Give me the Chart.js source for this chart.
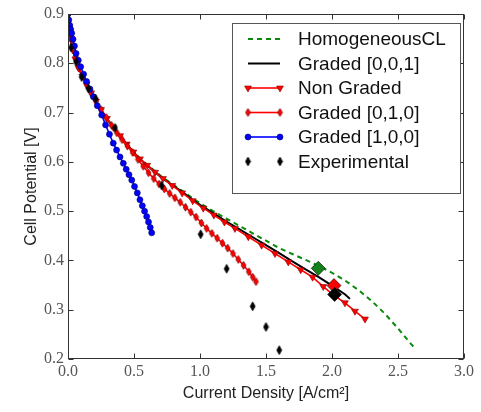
<!DOCTYPE html>
<html><head><meta charset="utf-8">
<script src="https://cdn.jsdelivr.net/npm/chart.js@4.4.0/dist/chart.umd.min.js"></script>
<style>html,body{margin:0;padding:0;background:#fff}#wrap{width:481px;height:412px;position:relative}</style>
</head><body><div id="wrap"><canvas id="c"></canvas></div>
<script>
// ---- tick labels ----
const xTickValues = [0.0, 0.5, 1.0, 1.5, 2.0, 2.5, 3.0];
const yTickValues = [0.2, 0.3, 0.4, 0.5, 0.6, 0.7, 0.8, 0.9];
const seriesNames = ['HomogeneousCL', 'Graded [0,0,1]', 'Non Graded', 'Graded [0,1,0]', 'Graded [1,0,0]', 'Experimental'];

// ---- HomogeneousCL ----
const homogCurrent = [0,0.008,0.02,0.036,0.056,0.08,0.108,0.14,0.175,0.212,0.25,0.295,0.343,0.395,0.445,0.495,0.545,0.6,0.66,0.72,0.79,0.865,0.945,1.0,1.1,1.2,1.3,1.4,1.5,1.6,1.7,1.8,1.9,2.0,2.1,2.2,2.3,2.4,2.5,2.6,2.634];
const homogPotential = [0.9,0.874,0.85,0.828,0.809,0.791,0.774,0.757,0.74,0.723,0.706,0.688,0.67,0.653,0.636,0.621,0.607,0.594,0.581,0.568,0.555,0.541,0.526,0.516,0.5,0.485,0.47,0.455,0.44,0.425,0.413,0.401,0.389,0.375,0.359,0.34,0.318,0.292,0.262,0.23,0.22];

// ---- Graded [0,0,1] ----
const g001Current = [0,0.008,0.02,0.036,0.056,0.08,0.108,0.14,0.175,0.212,0.25,0.295,0.343,0.395,0.445,0.495,0.545,0.6,0.66,0.72,0.79,0.865,0.945,1.0,1.1,1.2,1.3,1.4,1.5,1.6,1.7,1.8,1.9,2.0,2.1,2.136];
const g001Potential = [0.9,0.874,0.85,0.828,0.809,0.791,0.774,0.757,0.74,0.723,0.706,0.688,0.67,0.653,0.636,0.62,0.606,0.593,0.579,0.566,0.553,0.539,0.523,0.513,0.496,0.479,0.463,0.447,0.431,0.415,0.398,0.382,0.366,0.349,0.331,0.322];

// ---- Non Graded ----
const nonGradedCurrent = [0,0.008,0.02,0.036,0.056,0.08,0.108,0.14,0.175,0.212,0.25,0.295,0.343,0.395,0.445,0.495,0.545,0.6,0.66,0.72,0.79,0.865,0.945,1.025,1.105,1.185,1.265,1.366,1.467,1.568,1.669,1.763,1.853,1.934,2.01,2.098,2.174,2.25];
const nonGradedPotential = [0.9,0.874,0.85,0.828,0.809,0.791,0.774,0.757,0.74,0.723,0.706,0.688,0.67,0.653,0.636,0.62,0.606,0.593,0.579,0.566,0.552,0.537,0.521,0.506,0.492,0.478,0.465,0.448,0.431,0.414,0.397,0.381,0.366,0.347,0.33,0.314,0.297,0.281];

// ---- Graded [0,1,0] ----
const g010Current = [0,0.008,0.02,0.036,0.056,0.08,0.108,0.14,0.175,0.212,0.25,0.29,0.33,0.37,0.41,0.45,0.49,0.53,0.57,0.61,0.65,0.69,0.73,0.77,0.81,0.85,0.89,0.93,0.97,1.01,1.05,1.09,1.13,1.17,1.21,1.25,1.29,1.33,1.37,1.4,1.424];
const g010Potential = [0.9,0.874,0.85,0.828,0.809,0.791,0.774,0.757,0.74,0.723,0.706,0.69,0.674,0.659,0.645,0.632,0.619,0.605,0.591,0.578,0.566,0.555,0.545,0.536,0.527,0.518,0.508,0.498,0.488,0.476,0.465,0.455,0.445,0.435,0.425,0.414,0.402,0.39,0.377,0.366,0.357];

// ---- Graded [1,0,0] ----
const g100Current = [0,0.006,0.013,0.02,0.028,0.038,0.049,0.061,0.078,0.096,0.118,0.141,0.166,0.192,0.222,0.255,0.285,0.314,0.343,0.368,0.394,0.419,0.441,0.462,0.483,0.504,0.525,0.545,0.563,0.58,0.596,0.61,0.623,0.634];
const g100Potential = [0.9,0.888,0.877,0.869,0.861,0.849,0.835,0.82,0.806,0.793,0.778,0.763,0.748,0.732,0.714,0.695,0.675,0.656,0.638,0.624,0.61,0.597,0.585,0.574,0.563,0.55,0.537,0.523,0.511,0.5,0.489,0.478,0.467,0.456];

// ---- Experimental ----
const expCurrent = [0.023,0.061,0.104,0.154,0.21,0.356,0.71,1.005,1.202,1.399,1.5,1.6];
const expPotential = [0.832,0.803,0.772,0.749,0.728,0.669,0.552,0.453,0.383,0.307,0.265,0.218];

// ---- highlighted points (large diamonds) ----
const peakCurrent = [1.896, 2.015, 2.02];
const peakPotential = [0.384, 0.349, 0.331];
const peakColors = ['#13801a', '#ff0000', '#000000'];

function pts(xs, ys) { return xs.map((x, i) => ({ x: x, y: ys[i] })); }

function thinDiamond(w, h, fill, stroke) {
  const c = document.createElement('canvas');
  c.width = w + 2; c.height = h + 2;
  const g = c.getContext('2d');
  g.beginPath();
  g.moveTo((w + 2) / 2, 1); g.lineTo(w + 1, (h + 2) / 2);
  g.lineTo((w + 2) / 2, h + 1); g.lineTo(1, (h + 2) / 2);
  g.closePath();
  g.fillStyle = fill; g.fill();
  g.lineWidth = 0.7; g.strokeStyle = stroke; g.stroke();
  return c;
}
const expMarker = thinDiamond(5, 9, '#000', '#000');
const redThin = thinDiamond(5, 8, '#ff0000', '#700');

const datasets = [
  { label: seriesNames[0], data: pts(homogCurrent, homogPotential), borderColor: '#0a8a0a', borderWidth: 2, borderDash: [5, 4], pointRadius: 0, order: 10 },
  { label: seriesNames[1], data: pts(g001Current, g001Potential), borderColor: '#000', borderWidth: 2, pointRadius: 0, order: 9 },
  { label: seriesNames[2], data: pts(nonGradedCurrent, nonGradedPotential), borderColor: '#ff0000', borderWidth: 1.6, pointStyle: 'triangle', pointRotation: 180, pointRadius: 4, backgroundColor: '#ff0000', pointBorderColor: '#800', pointBorderWidth: 0.6, order: 8 },
  { label: seriesNames[3], data: pts(g010Current, g010Potential), borderColor: '#ff0000', borderWidth: 1.6, pointStyle: redThin, pointRadius: 4, backgroundColor: '#ff0000', order: 7 },
  { label: seriesNames[4], data: pts(g100Current, g100Potential), borderColor: '#0000ff', borderWidth: 1.6, pointStyle: 'circle', pointRadius: 3, backgroundColor: '#0000ff', pointBorderColor: '#000066', pointBorderWidth: 0.6, order: 6 },
  { label: seriesNames[5], data: pts(expCurrent, expPotential), showLine: false, pointStyle: expMarker, pointRadius: 4, backgroundColor: '#000', borderColor: '#000', order: 5 },
  { label: 'peaks', data: pts(peakCurrent, peakPotential), showLine: false, pointStyle: 'rectRot', pointRadius: 7, pointBackgroundColor: peakColors, pointBorderColor: '#000', pointBorderWidth: 0.6, order: 1 }
];
datasets.forEach(d => { d.clip = 0; d.tension = 0; d.fill = false; });

const framePlugin = {
  id: 'frameTicks',
  afterDatasetsDraw(chart) {
    const { ctx, chartArea: a, scales } = chart;
    ctx.save();
    ctx.strokeStyle = '#333'; ctx.lineWidth = 1;
    const L = Math.round(a.left) + 0.5, R = Math.round(a.right) - 0.5, T = Math.round(a.top) + 0.5, B = Math.round(a.bottom) - 0.5;
    ctx.strokeRect(L, T, R - L, B - T);
    ctx.beginPath();
    const tl = 5;
    xTickValues.forEach(v => {
      const px = Math.round(scales.x.getPixelForValue(v)) + 0.5;
      ctx.moveTo(px, B); ctx.lineTo(px, B - tl);
      ctx.moveTo(px, T); ctx.lineTo(px, T + tl);
    });
    yTickValues.forEach(v => {
      const py = Math.round(scales.y.getPixelForValue(v)) + 0.5;
      ctx.moveTo(L, py); ctx.lineTo(L + tl, py);
      ctx.moveTo(R, py); ctx.lineTo(R - tl, py);
    });
    ctx.stroke();
    ctx.restore();
  }
};

const legendPlugin = {
  id: 'boxLegend',
  afterDraw(chart) {
    const ctx = chart.ctx;
    ctx.save();
    const x0 = 232.5, y0 = 23.5, w = 228, h = 170;
    ctx.fillStyle = '#fff'; ctx.fillRect(x0, y0, w, h);
    ctx.strokeStyle = '#555'; ctx.lineWidth = 1; ctx.strokeRect(x0, y0, w, h);
    const rows = [39, 63.5, 88, 112.5, 137, 161.5];
    const xa = 248, xb = 280;
    seriesNames.forEach((name, i) => {
      const ds = chart.data.datasets[i];
      const y = rows[i];
      if (ds.showLine !== false) {
        ctx.beginPath();
        ctx.setLineDash(ds.borderDash || []);
        ctx.strokeStyle = ds.borderColor; ctx.lineWidth = ds.borderWidth;
        ctx.moveTo(xa, y); ctx.lineTo(xb, y); ctx.stroke();
        ctx.setLineDash([]);
      }
      if (ds.pointRadius > 0) {
        [xa, xb].forEach(px => {
          ctx.fillStyle = ds.backgroundColor;
          ctx.strokeStyle = ds.pointBorderColor || ds.borderColor;
          ctx.lineWidth = ds.pointBorderWidth || 0;
          Chart.helpers.drawPoint(ctx, { pointStyle: ds.pointStyle, radius: ds.pointRadius, rotation: ds.pointRotation || 0, borderWidth: ds.pointBorderWidth || 0 }, px, y);
        });
      }
      ctx.fillStyle = '#111';
      ctx.font = '19px "Liberation Sans", Arial, sans-serif';
      ctx.textBaseline = 'middle'; ctx.textAlign = 'left';
      ctx.fillText(name, 298, y + 1);
    });
    ctx.restore();
  }
};

new Chart(document.getElementById('c'), {
  type: 'line',
  data: { datasets: datasets },
  options: {
    responsive: true, maintainAspectRatio: false, animation: false,
    layout: { padding: { top: 14, right: 17, left: 0, bottom: 0 } },
    plugins: { legend: { display: false }, tooltip: { enabled: false } },
    scales: {
      x: {
        type: 'linear', min: 0, max: 3,
        afterBuildTicks: s => { s.ticks = xTickValues.map(v => ({ value: v })); },
        afterFit: s => { s.height = 53; },
        grid: { display: false, drawTicks: false }, border: { display: false },
        ticks: { callback: v => v.toFixed(1), font: { family: '"Liberation Serif", serif', size: 16 }, color: '#555', padding: 3, maxRotation: 0 },
        title: { display: true, text: 'Current Density [A/cm²]', font: { family: '"Liberation Sans", Arial, sans-serif', size: 16 }, color: '#222', padding: { top: 0, bottom: 9 } }
      },
      y: {
        type: 'linear', min: 0.2, max: 0.9,
        afterBuildTicks: s => { s.ticks = yTickValues.map(v => ({ value: v })); },
        afterFit: s => { s.width = 68; },
        grid: { display: false, drawTicks: false }, border: { display: false },
        ticks: { callback: v => v.toFixed(1), font: { family: '"Liberation Serif", serif', size: 16 }, color: '#555', padding: 4 },
        title: { display: true, text: 'Cell Potential [V]', font: { family: '"Liberation Sans", Arial, sans-serif', size: 16 }, color: '#222', padding: { top: 22, bottom: 0 } }
      }
    }
  },
  plugins: [framePlugin, legendPlugin]
});
</script></body></html>
